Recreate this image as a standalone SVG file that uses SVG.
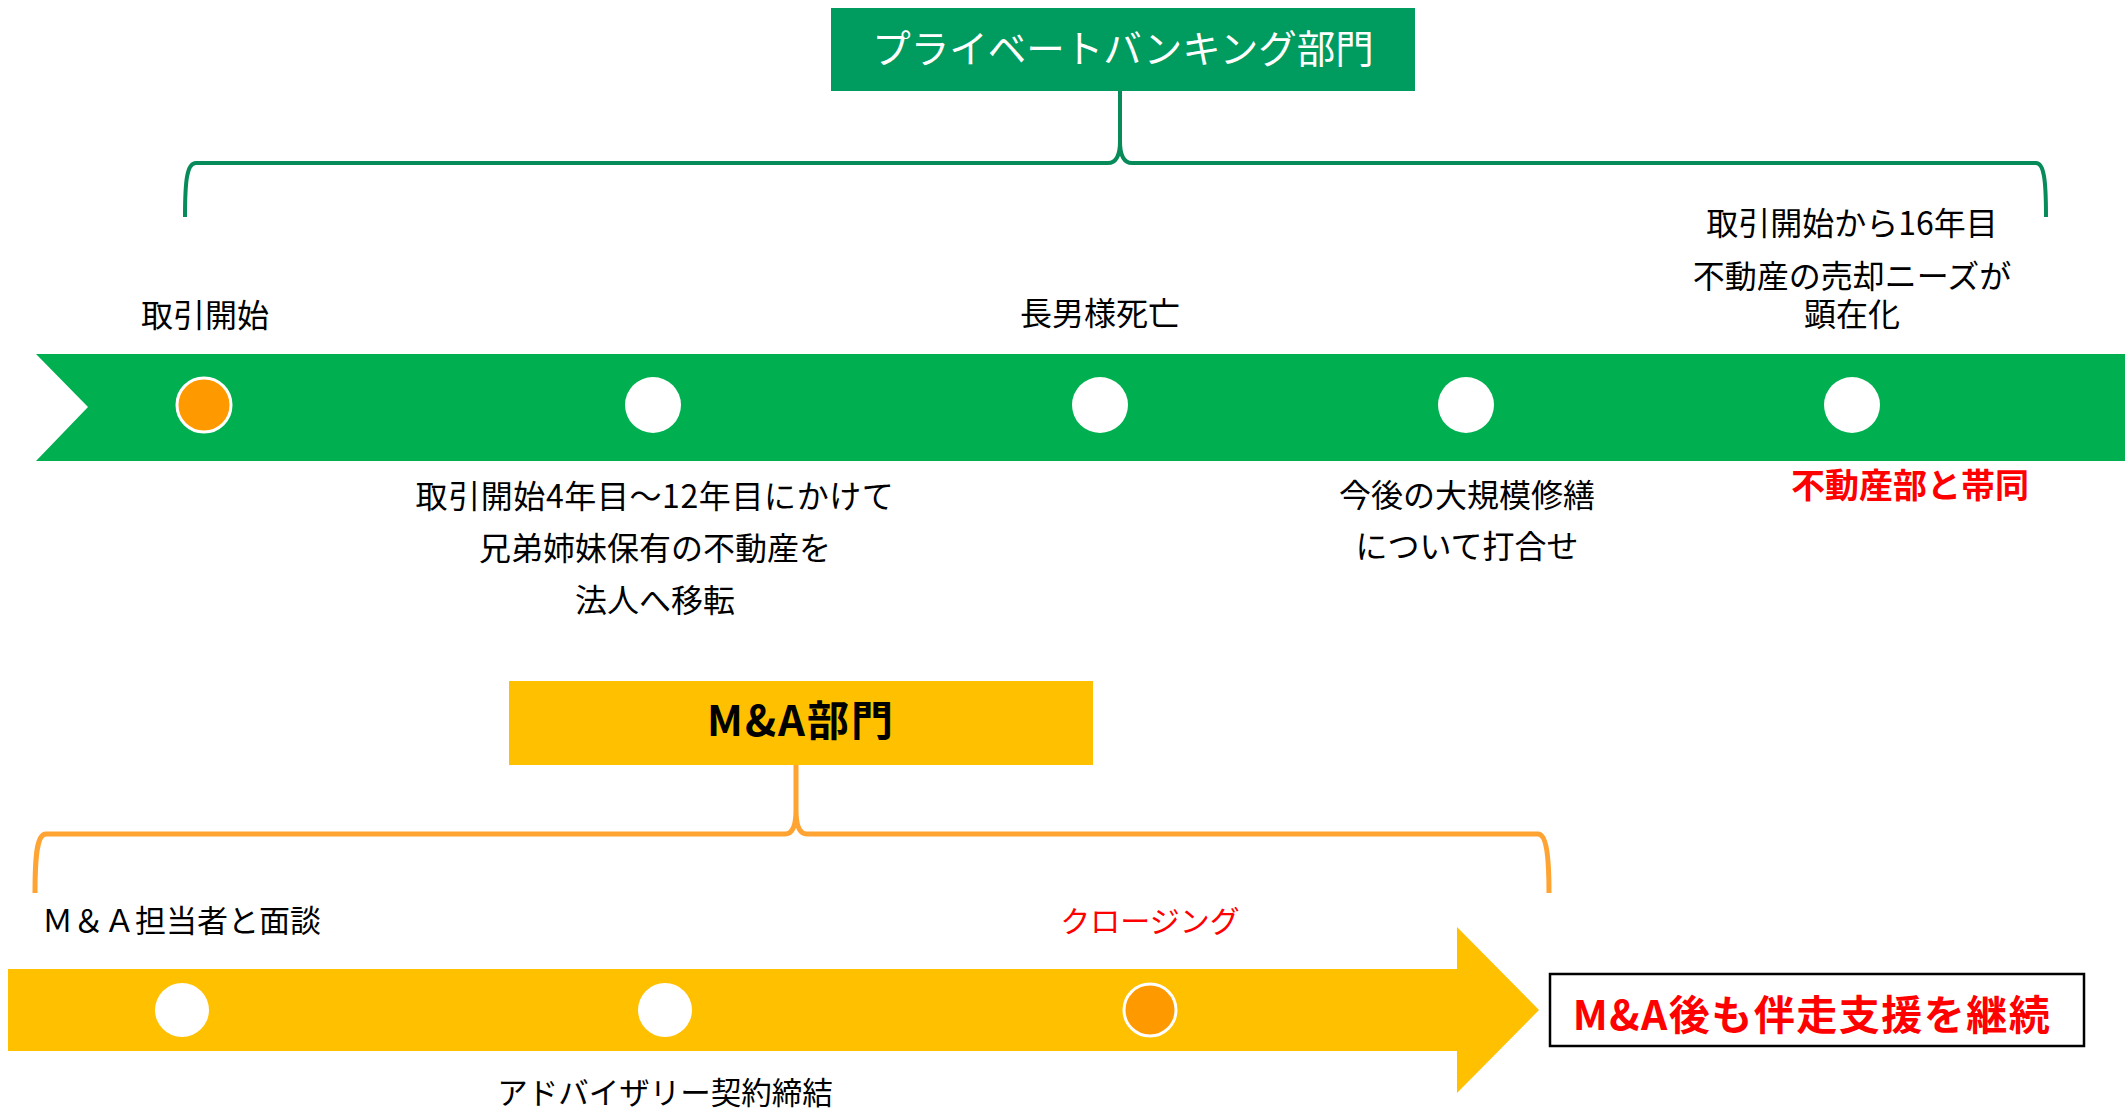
<svg xmlns="http://www.w3.org/2000/svg" width="2127" height="1111" viewBox="0 0 2127 1111">
<style>
text{font-family:"Noto Sans CJK JP","Noto Sans",sans-serif;}
.t{font-size:32px;fill:#000;text-anchor:middle;}
.red{fill:#FF0000;}
.wdot{fill:#FFFFFF;}
.odot{fill:#FF9900;stroke:#FFFFFF;stroke-width:3;}
.gbrace{fill:none;stroke:#078B5A;stroke-width:4;}
.obrace{fill:none;stroke:#FFA432;stroke-width:5;}
</style>
<rect width="2127" height="1111" fill="#FFFFFF"/>
<g id="connectors">
<path class="gbrace" d="M185,217 C185,180 187,163 196,163 L1108,163 C1116,163 1120,155 1120,141 C1120,155 1124,163 1132,163 L2036,163 C2044,163 2046,180 2046,217 M1120,91 L1120,141"/>
<path class="obrace" d="M35,893 C35,855 37,834 46,834 L785,834 C792,834 796,826 796,810 C796,826 800,834 807,834 L1538,834 C1546,834 1549,855 1549,893 M796,764 L796,810"/>
</g>
<g id="pb-header">
<rect x="831" y="8" width="584" height="83" fill="#009B5F"/>
<text x="1123" y="63" style="font-size:38.5px;fill:#FFFFFF;text-anchor:middle;">プライベートバンキング部門</text>
</g>
<g id="pb-timeline">
<polygon points="36,354 2125,354 2125,461 36,461 88,407" fill="#00B050"/>
</g>
<g id="pb-1">
<circle class="odot" cx="204" cy="405" r="27"/>
<text class="t" x="205" y="327">取引開始</text>
</g>
<g id="pb-2">
<circle class="wdot" cx="653" cy="405" r="28"/>
<text class="t" x="655" y="508" style="letter-spacing:0.6px;">取引開始4年目～12年目にかけて</text>
<text class="t" x="655" y="560">兄弟姉妹保有の不動産を</text>
<text class="t" x="655" y="612">法人へ移転</text>
</g>
<g id="pb-3">
<circle class="wdot" cx="1100" cy="405" r="28"/>
<text class="t" x="1100" y="325">長男様死亡</text>
</g>
<g id="pb-4">
<circle class="wdot" cx="1466" cy="405" r="28"/>
<text class="t" x="1467" y="507">今後の大規模修繕</text>
<text class="t" x="1467" y="558">について打合せ</text>
</g>
<g id="pb-5">
<circle class="wdot" cx="1852" cy="405" r="28"/>
<text class="t" x="1852" y="235">取引開始から16年目</text>
<text class="t" x="1852" y="288">不動産の売却ニーズが</text>
<text class="t" x="1852" y="326">顕在化</text>
<text class="t red" x="1910" y="498" style="font-size:34px;font-weight:bold;">不動産部と帯同</text>
</g>
<g id="ma-header">
<rect x="509" y="681" width="584" height="84" fill="#FFC000"/>
<text x="801" y="736" style="font-size:42px;font-weight:bold;fill:#000;text-anchor:middle;letter-spacing:2px;">M&amp;A部門</text>
</g>
<g id="ma-timeline">
<polygon points="8,969 1457,969 1457,927 1539,1010 1457,1093 1457,1051 8,1051" fill="#FFC000"/>
</g>
<g id="ma-1">
<circle class="wdot" cx="182" cy="1010" r="27"/>
<text x="42" y="932" style="font-size:31px;fill:#000;">Ｍ＆Ａ担当者と面談</text>
</g>
<g id="ma-2">
<circle class="wdot" cx="665" cy="1010" r="27"/>
<text x="665" y="1104" style="font-size:30.5px;fill:#000;text-anchor:middle;">アドバイザリー契約締結</text>
</g>
<g id="ma-3">
<circle class="odot" cx="1150" cy="1010" r="26"/>
<text class="red" x="1150" y="932" style="font-size:30px;text-anchor:middle;">クロージング</text>
</g>
<g id="ma-after">
<rect x="1550" y="974" width="534" height="72" fill="#FFFFFF" stroke="#000000" stroke-width="2.5"/>
<text class="red" x="1812" y="1030" style="font-size:41px;font-weight:bold;text-anchor:middle;letter-spacing:1.5px;">M&amp;A後も伴走支援を継続</text>
</g>
</svg>
